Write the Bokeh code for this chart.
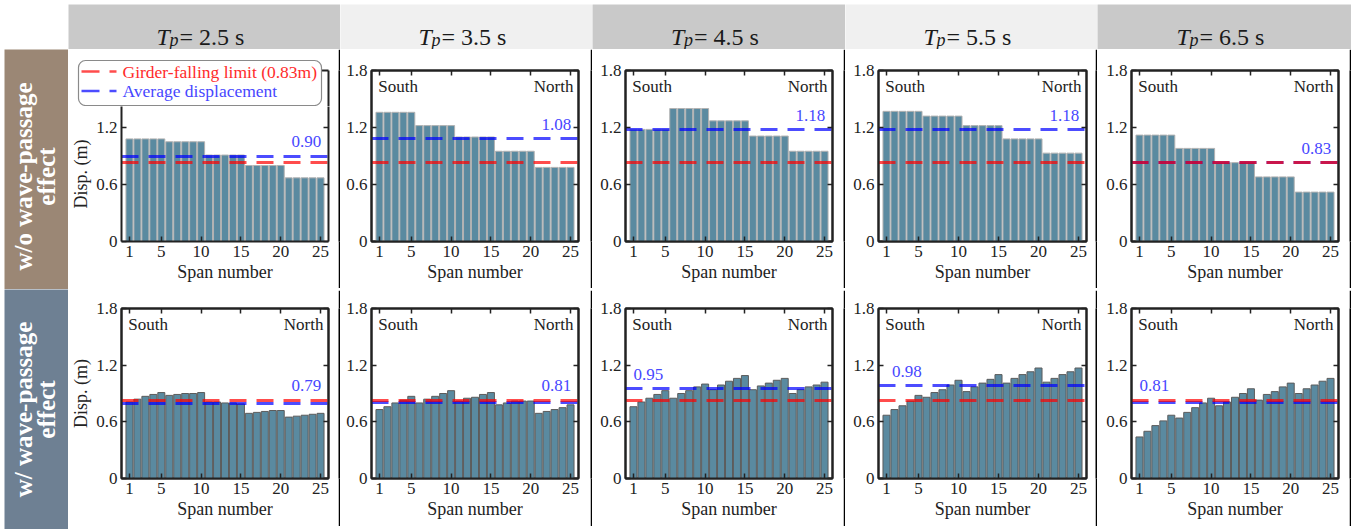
import math

from bokeh.core.properties import value
from bokeh.embed import file_html
from bokeh.layouts import column, row
from bokeh.models import CustomJSTickFormatter, FixedTicker, Label, LinearAxis, Quad, Range1d
from bokeh.plotting import figure
from bokeh.resources import INLINE

FONT = "Liberation Serif"

# ---------------------------------------------------------------- data
span_number = list(range(1, 26))
span_ticks = [1, 5, 10, 15, 20, 25]
disp_ticks = [0, 0.6, 1.2, 1.8]
period_labels = ["2.5", "3.5", "4.5", "5.5", "6.5"]
row_titles = [["w/o wave-passage", "effect"], ["w/ wave-passage", "effect"]]
girder_limit = 0.83
legend_labels = [f"Girder-falling limit ({girder_limit:.2f}m)", "Average displacement"]

# maximum girder displacement (m) per span, without wave-passage effect
disp_without = [
    [1.08, 1.08, 1.08, 1.08, 1.08, 1.05, 1.05, 1.05, 1.05, 1.05, 0.91, 0.91, 0.91,
     0.91, 0.91, 0.80, 0.80, 0.80, 0.80, 0.80, 0.67, 0.67, 0.67, 0.67, 0.67],
    [1.36, 1.36, 1.36, 1.36, 1.36, 1.22, 1.22, 1.22, 1.22, 1.22, 1.10, 1.10, 1.10,
     1.10, 1.10, 0.95, 0.95, 0.95, 0.95, 0.95, 0.78, 0.78, 0.78, 0.78, 0.78],
    [1.18, 1.18, 1.18, 1.18, 1.18, 1.40, 1.40, 1.40, 1.40, 1.40, 1.27, 1.27, 1.27,
     1.27, 1.27, 1.11, 1.11, 1.11, 1.11, 1.11, 0.95, 0.95, 0.95, 0.95, 0.95],
    [1.37, 1.37, 1.37, 1.37, 1.37, 1.32, 1.32, 1.32, 1.32, 1.32, 1.22, 1.22, 1.22,
     1.22, 1.22, 1.08, 1.08, 1.08, 1.08, 1.08, 0.93, 0.93, 0.93, 0.93, 0.93],
    [1.12, 1.12, 1.12, 1.12, 1.12, 0.98, 0.98, 0.98, 0.98, 0.98, 0.83, 0.83, 0.83,
     0.83, 0.83, 0.68, 0.68, 0.68, 0.68, 0.68, 0.52, 0.52, 0.52, 0.52, 0.52],
]
# maximum girder displacement (m) per span, with wave-passage effect
disp_with = [
    [0.81, 0.84, 0.87, 0.89, 0.91, 0.88, 0.89, 0.90, 0.90, 0.91, 0.81, 0.81, 0.80,
     0.80, 0.79, 0.69, 0.70, 0.71, 0.72, 0.72, 0.65, 0.66, 0.67, 0.68, 0.69],
    [0.73, 0.76, 0.80, 0.83, 0.87, 0.80, 0.84, 0.87, 0.90, 0.93, 0.82, 0.85, 0.86,
     0.89, 0.91, 0.78, 0.80, 0.82, 0.82, 0.82, 0.69, 0.71, 0.73, 0.75, 0.78],
    [0.76, 0.81, 0.85, 0.89, 0.93, 0.85, 0.90, 0.93, 0.97, 1.00, 0.94, 0.99, 1.03,
     1.06, 1.09, 0.94, 0.98, 1.01, 1.04, 1.06, 0.90, 0.94, 0.97, 0.99, 1.02],
    [0.67, 0.73, 0.77, 0.82, 0.88, 0.86, 0.91, 0.94, 0.99, 1.04, 0.92, 0.97, 1.01,
     1.05, 1.10, 1.01, 1.06, 1.10, 1.13, 1.17, 1.02, 1.06, 1.10, 1.13, 1.17],
    [0.44, 0.50, 0.56, 0.61, 0.67, 0.64, 0.70, 0.75, 0.80, 0.85, 0.77, 0.81, 0.86,
     0.90, 0.95, 0.83, 0.89, 0.92, 0.97, 1.01, 0.90, 0.95, 0.99, 1.03, 1.06],
]
avg_without = [0.90, 1.08, 1.18, 1.18, 0.83]
avg_with = [0.79, 0.81, 0.95, 0.98, 0.81]

# ---------------------------------------------------------------- styling
BAR = "#5a8aa0"
AXIS = "#222222"
RED = "#ff0000"
BLUE = "#0000ff"
AVG_TEXT = "#4747ff"
LEG_RED = "#ff2b2b"
HEAD_DARK = "#c9c9c9"
HEAD_LIGHT = "#f0f0f0"
DASH = "17 10"
LINE_W = 2
LABEL_W = 68
HEADER_H = 49
LEGEND_H = 57          # strip above the first panel that carries the legend

col_w = [270, 250, 251, 250, 252]
col_left = [53, 31, 33, 33, 34]
col_right = [10, 12, 11, 9, 11]

rows_cfg = [
    dict(data=disp_without, avg=avg_without, h=239, top=21, bottom=47,
         edge="#b2b2b2", side=["right"] * 5, color="#9b8775", label_h=240, cy=113),
    dict(data=disp_with, avg=avg_with, h=236, top=18, bottom=48,
         edge="#5c5c5c", side=["right", "right", "left", "left", "left"],
         color="#6e8093", label_h=240, cy=120),
]
left_label_x = [1.0, 1.0, 1.0, 1.7, 1.0]

X_START, X_END = 0, 26
Y_START, Y_END = 0, 1.8


def plain(width, height, color, **kw):
    f = figure(width=width, height=height, toolbar_location=None,
               output_backend="svg", x_axis_location=None, y_axis_location=None,
               min_border=0, **kw)
    f.grid.visible = False
    f.outline_line_color = None
    f.background_fill_color = color
    f.border_fill_color = color
    return f


def style_axis(ax, blank=False):
    ax.axis_line_color = AXIS
    ax.axis_line_width = 2
    ax.major_tick_line_color = AXIS
    ax.major_tick_line_width = 1.5
    ax.major_tick_in = 5
    ax.major_tick_out = 0
    ax.minor_tick_line_color = None
    ax.major_label_text_font = FONT
    ax.major_label_text_font_size = "17px"
    ax.major_label_text_color = AXIS
    ax.major_label_standoff = 4
    ax.axis_label_text_font = FONT
    ax.axis_label_text_font_size = "18px"
    ax.axis_label_text_font_style = "normal"
    ax.axis_label_text_color = AXIS
    ax.axis_label_standoff = 2
    if blank:
        ax.formatter = CustomJSTickFormatter(code="return ''")
        ax.major_label_text_font_size = "1px"
        ax.major_label_standoff = 0


def make_panel(ri, ci, with_legend=False):
    cfg = rows_cfg[ri]
    avg = cfg["avg"][ci]
    height, top, y_end = cfg["h"], cfg["top"], Y_END
    if with_legend:
        # the legend strip takes the upper part of the cell; keep the same
        # pixels-per-metre as the neighbouring panels
        full_frame = cfg["h"] - cfg["top"] - cfg["bottom"]
        height = cfg["h"] - LEGEND_H
        top = 0
        y_end = Y_END * (height - cfg["bottom"]) / full_frame
    p = figure(width=col_w[ci], height=height,
               x_range=Range1d(X_START, X_END), y_range=Range1d(Y_START, y_end),
               toolbar_location=None, output_backend="svg",
               min_border_left=col_left[ci], min_border_right=col_right[ci],
               min_border_top=top, min_border_bottom=cfg["bottom"])
    p.grid.visible = False
    p.background_fill_color = "white"
    p.border_fill_color = "white"
    p.outline_line_color = None if with_legend else AXIS
    p.outline_line_width = 2

    p.vbar(x=span_number, top=cfg["data"][ci], width=0.88, fill_color=BAR,
           line_color=cfg["edge"], line_width=1)
    p.hspan(y=[avg], line_color=BLUE, line_alpha=0.7, line_width=3, line_dash=DASH)
    p.hspan(y=[girder_limit], line_color=RED, line_alpha=0.7, line_width=3,
            line_dash=DASH)

    xa, ya = p.xaxis[0], p.yaxis[0]
    shown = [t for t in disp_ticks if t <= y_end + 1e-9]
    xa.ticker = FixedTicker(ticks=span_ticks)
    ya.ticker = FixedTicker(ticks=shown)
    ya.formatter = CustomJSTickFormatter(
        code="return tick == 0 ? '0' : tick.toFixed(1)")
    xa.axis_label = "Span number"
    if ci == 0:
        ya.axis_label = "Disp. (m)"
    style_axis(xa)
    style_axis(ya)

    right_ax = LinearAxis(ticker=FixedTicker(ticks=shown))
    style_axis(right_ax, blank=True)
    p.add_layout(right_ax, "right")
    if not with_legend:
        top_ax = LinearAxis(ticker=FixedTicker(ticks=span_ticks))
        style_axis(top_ax, blank=True)
        p.add_layout(top_ax, "above")

    # average value label
    side = cfg["side"][ci]
    ly = max(avg, girder_limit) + 0.15
    if side == "right":
        lx, align = X_END - 0.9, "right"
    else:
        lx, align = left_label_x[ci], "left"
    p.add_layout(Label(x=lx, y=ly, text=f"{avg:.2f}", text_align=align,
                       text_baseline="middle", text_font=FONT,
                       text_font_size="17px", text_color=AVG_TEXT))

    if not with_legend:
        for txt, x, align in [("South", 0.85, "left"), ("North", X_END - 0.63, "right")]:
            p.add_layout(Label(x=x, y=1.63, text=txt, text_align=align,
                               text_baseline="middle", text_font=FONT,
                               text_font_size="17px", text_color=AXIS))
    return p


def make_legend_strip():
    """Legend box overlapping the top of the first panel's axes box."""
    cfg = rows_cfg[0]
    w, h = col_w[0], LEGEND_H
    f = figure(width=w, height=h, x_range=Range1d(0, w), y_range=Range1d(h, 0),
               toolbar_location=None, output_backend="svg",
               x_axis_location=None, y_axis_location=None, min_border=0)
    f.grid.visible = False
    f.outline_line_color = None
    f.background_fill_color = "white"
    f.border_fill_color = "white"

    # upper-right corner of the axes box that shows beside the legend
    ax_x = w - col_right[0]
    ax_top = cfg["top"]
    f.segment(x0=[ax_x, ax_x - 8], y0=[ax_top, ax_top], x1=[ax_x, ax_x],
              y1=[h, ax_top], line_color=AXIS, line_width=2)

    box_l, box_r, box_t, box_b = 10, 253, 11, h - 1
    quad_kw = dict(left=[box_l], right=[box_r], top=[box_t], bottom=[box_b],
                   fill_color="white", line_color="#8a8a8a", line_width=1.2)
    if "border_radius" in Quad.properties():
        quad_kw["border_radius"] = 7
    f.quad(**quad_kw)

    rows_y = [22, 41.5]
    colours = [(RED, LEG_RED), (BLUE, AVG_TEXT)]
    for yy, lab, (line_c, text_c) in zip(rows_y, legend_labels, colours):
        f.segment(x0=[13], y0=[yy], x1=[48], y1=[yy], line_color=line_c,
                  line_alpha=0.7, line_width=2.5, line_dash="18 10")
        f.text(x=[54], y=[yy], text=[lab], text_font=value(FONT),
               text_font_size="17.5px", text_color=text_c, text_align="left",
               text_baseline="middle")
    return f


def make_header(ci):
    w = col_w[ci] + LINE_W
    color = HEAD_DARK if ci % 2 == 0 else HEAD_LIGHT
    f = figure(width=w, height=HEADER_H, x_range=Range1d(0, w), y_range=Range1d(0, 45),
               toolbar_location=None, output_backend="svg",
               x_axis_location=None, y_axis_location=None,
               min_border=0, min_border_top=4)
    f.grid.visible = False
    f.outline_line_color = None
    f.background_fill_color = color
    f.border_fill_color = "white"
    x0 = col_w[ci] / 2 - 47
    common = dict(text_font=value(FONT), text_color="#1a1a1a", text_align="left",
                  text_baseline="alphabetic")
    f.text(x=[x0], y=[13], text=["T"], text_font_style="italic",
           text_font_size="24px", **common)
    f.text(x=[x0 + 13], y=[10], text=["p"], text_font_style="italic",
           text_font_size="18px", **common)
    f.text(x=[x0 + 23], y=[13], text=[f"= {period_labels[ci]} s"],
           text_font_size="24px", **common)
    return f


def make_row_label(ri):
    cfg = rows_cfg[ri]
    h = cfg["label_h"]
    f = figure(width=LABEL_W, height=h, x_range=Range1d(0, LABEL_W - 4),
               y_range=Range1d(0, h), toolbar_location=None, output_backend="svg",
               x_axis_location=None, y_axis_location=None,
               min_border=0, min_border_left=4)
    f.grid.visible = False
    f.outline_line_color = None
    f.background_fill_color = cfg["color"]
    f.border_fill_color = "white"
    f.text(x=[19, 42], y=[cfg["cy"], cfg["cy"]], text=row_titles[ri],
           angle=math.pi / 2, text_align="center", text_baseline="middle",
           text_font=value(FONT), text_font_style="bold", text_font_size="25px",
           text_color="white")
    return f


header = row([plain(LABEL_W, HEADER_H, "white")] + [make_header(c) for c in range(5)])

panel_rows = []
total_w = sum(col_w) + 5 * LINE_W
for ri in range(2):
    items = []
    for ci in range(5):
        if (ri, ci) == (0, 0):
            # nested row keeps the strip's own borders (no frame alignment)
            items.append(column([row([make_legend_strip()]),
                                 make_panel(ri, ci, with_legend=True)]))
        else:
            items.append(make_panel(ri, ci))
        items.append(plain(LINE_W, rows_cfg[ri]["h"], "black"))
    panel_rows.append(row(items))
    panel_rows.append(plain(total_w, LINE_W, "black"))

labels = column([make_row_label(0), make_row_label(1)])
body = row([labels, column(panel_rows)])
layout = column([header, body])

open("out.html", "w").write(file_html(layout, INLINE, title="Girder displacement"))
